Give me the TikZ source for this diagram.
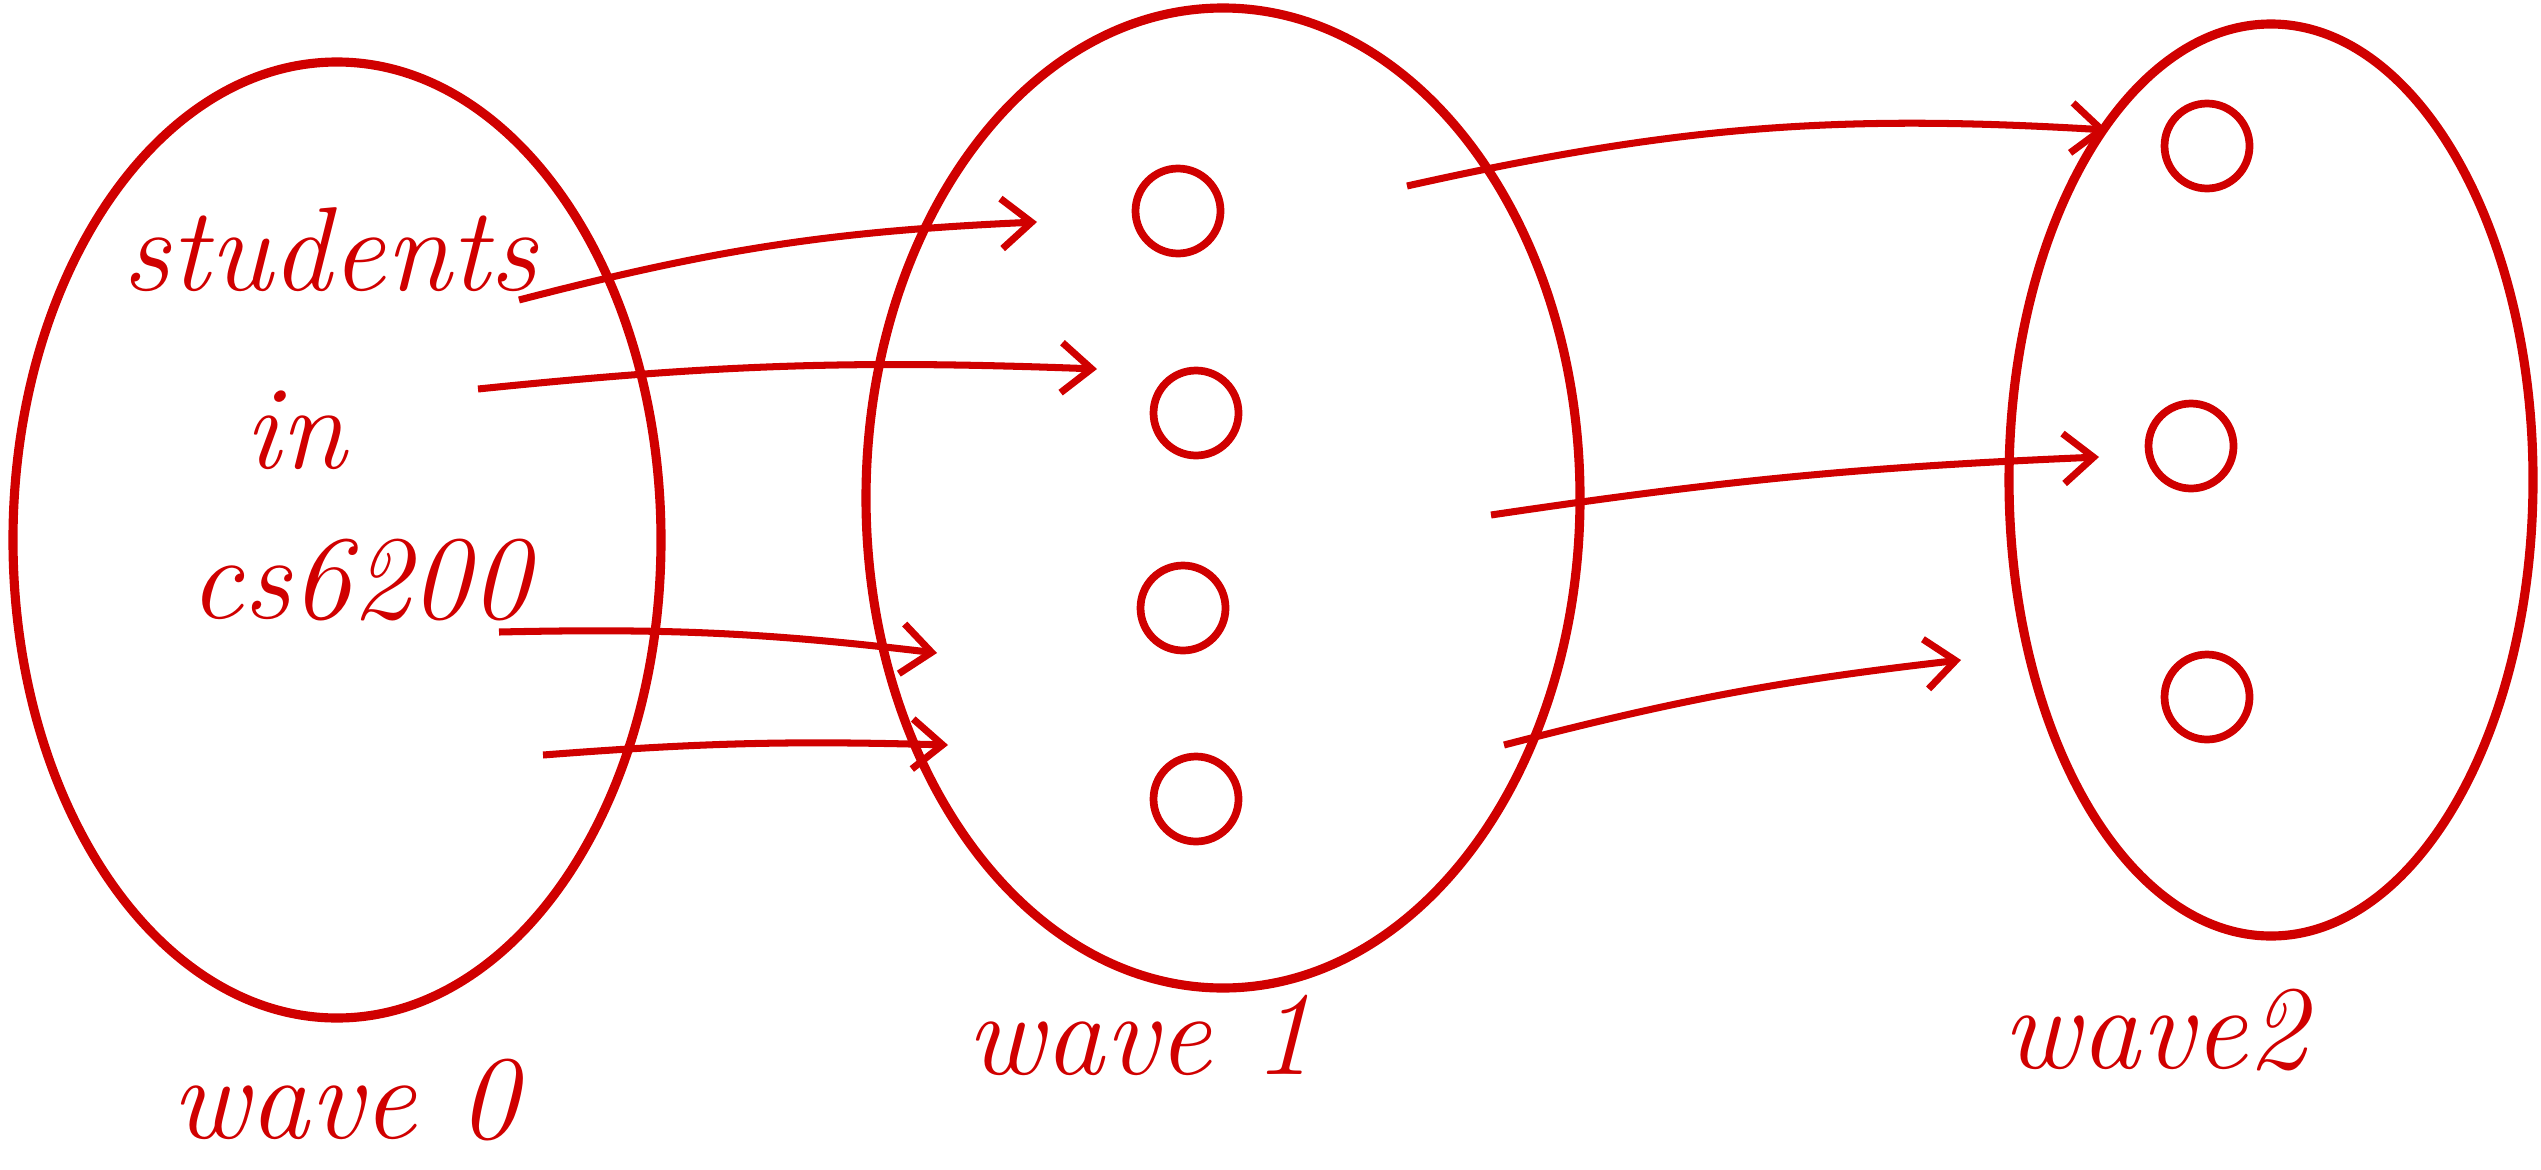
\documentclass[tikz,border=0pt]{standalone}
\usetikzlibrary{arrows.meta}
\definecolor{pen}{RGB}{208,0,0}
\tikzset{
  setline/.style={draw=pen, line width=2.6pt},
  elem/.style={draw=pen, line width=2.2pt, circle, minimum size=0.85cm, inner sep=0pt},
  link/.style={draw=pen, line width=2pt, -{Straight Barb[length=3mm,width=5mm]}},
  lbl/.style={text=pen, font=\fontsize{34}{40}\selectfont\itshape}
}
\begin{document}
\begin{tikzpicture}
\useasboundingbox (0,0) rectangle (25.41,-11.69);
% sets
\draw[setline] (3.37,-5.40) ellipse [x radius=3.24, y radius=4.78];
\draw[setline] (12.23,-4.98) ellipse [x radius=3.57, y radius=4.90];
\draw[setline] (22.71,-4.80) ellipse [x radius=2.62, y radius=4.56];
% labels
\node[lbl] (students) at (3.30,-2.50) {students};
\node[lbl] (in) at (2.95,-4.30) {in};
\node[lbl] (course) at (3.60,-5.80) {cs6200};
\node[lbl] (w0) at (3.45,-11.00) {wave 0};
\node[lbl] (w1) at (11.40,-10.35) {wave 1};
\node[lbl] (w2) at (21.55,-10.30) {wave2};
% elements
\node[elem] (m1) at (11.78,-2.11) {};
\node[elem] (m2) at (11.96,-4.13) {};
\node[elem] (m3) at (11.83,-6.08) {};
\node[elem] (m4) at (11.96,-7.99) {};
\node[elem] (r1) at (22.07,-1.46) {};
\node[elem] (r2) at (21.91,-4.46) {};
\node[elem] (r3) at (22.07,-6.97) {};
% arrow ends
\coordinate (a1) at (5.19,-3.00);  \coordinate (b1) at (10.37,-2.22);
\coordinate (a2) at (4.78,-3.89);  \coordinate (b2) at (10.97,-3.69);
\coordinate (a3) at (4.99,-6.32);  \coordinate (b3) at (9.37,-6.53);
\coordinate (a4) at (5.43,-7.55);  \coordinate (b4) at (9.48,-7.45);
\coordinate (a5) at (14.07,-1.86); \coordinate (b5) at (21.07,-1.30);
\coordinate (a6) at (14.91,-5.15); \coordinate (b6) at (20.99,-4.57);
\coordinate (a7) at (15.04,-7.45); \coordinate (b7) at (19.61,-6.60);
\draw[link] (a1) to[bend left=6] (b1);
\draw[link] (a2) to[bend left=4] (b2);
\draw[link] (a3) to[bend left=4] (b3);
\draw[link] (a4) to[bend left=3] (b4);
\draw[link] (a5) to[bend left=8] (b5);
\draw[link] (a6) to[bend left=3] (b6);
\draw[link] (a7) to[bend left=4] (b7);
\end{tikzpicture}
\end{document}
